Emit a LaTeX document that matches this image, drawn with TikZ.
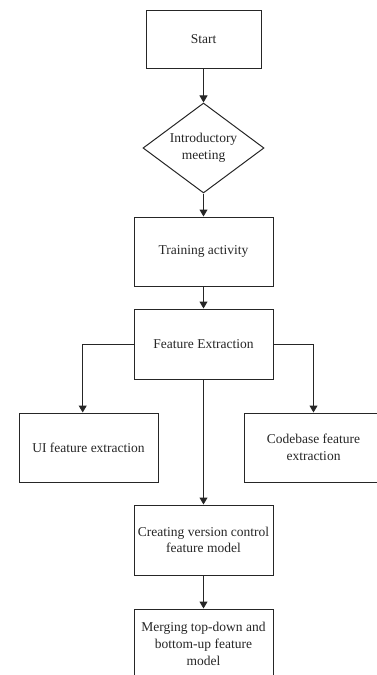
\documentclass[tikz,border=0pt]{standalone}
\usepackage{fontspec}
\setmainfont{Liberation Serif}
\usetikzlibrary{shapes.geometric,arrows.meta}
\definecolor{ln}{HTML}{262626}
\begin{document}
\begin{tikzpicture}[x=1pt,y=1pt,
  every node/.style={font=\fontsize{13.5}{16.7}\selectfont, text=ln},
  box/.style={draw=ln, line width=1pt, rectangle, minimum width=139pt, minimum height=70pt, inner sep=0pt, align=center},
  dec/.style={draw=ln, line width=1pt, diamond, aspect=1.344, minimum width=121pt, minimum height=90pt, inner sep=0pt, align=center},
  arr/.style={draw=ln, line width=1pt, -{Triangle[length=7pt,width=8pt]}}]
\useasboundingbox (0,0) rectangle (377,-675);
\node[box, minimum width=115pt, minimum height=58pt] (start) at (203.5,-39) {Start};
\node[dec] (intro) at (203.5,-148) {Introductory\\meeting};
\node[box, minimum height=69pt] (train) at (203.5,-251.5) {Training activity};
\node[box] (fe) at (203.5,-344) {Feature Extraction};
\node[box, minimum height=69pt] (ui) at (88.5,-447.5) {UI feature extraction};
\node[box, minimum height=69pt] (code) at (313.5,-447.5) {Codebase feature\\extraction};
\node[box] (cv) at (203.5,-540) {Creating version control\\feature model};
\node[box] (merge) at (203.5,-644) {Merging top-down and\\bottom-up feature\\model};
\coordinate (uitop) at ([xshift=-5.8pt]ui.north);
\draw[arr] (start) -- (intro);
\draw[arr] (intro) -- (train);
\draw[arr] (train) -- (fe);
\draw[arr] (fe.west) -| (uitop);
\draw[arr] (fe.east) -| (code.north);
\draw[arr] (fe) -- (cv);
\draw[arr] (cv) -- (merge);
\end{tikzpicture}
\end{document}
